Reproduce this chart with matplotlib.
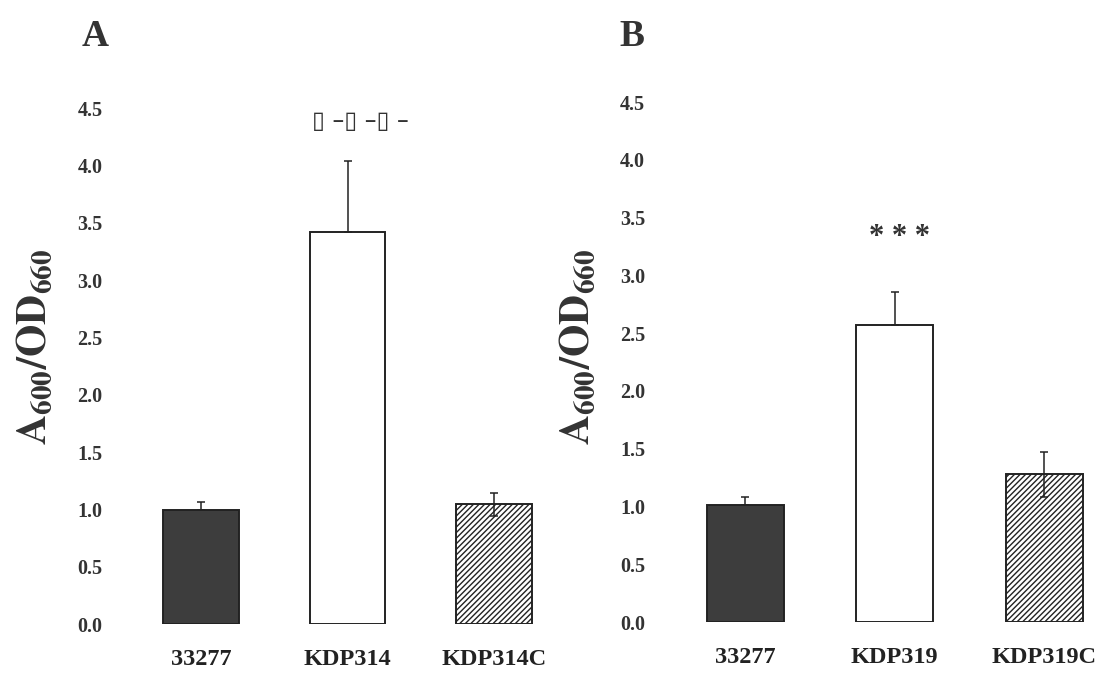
import matplotlib
matplotlib.use("Agg")
import matplotlib.pyplot as plt

plt.rcParams['font.family'] = ['Liberation Serif', 'DejaVu Sans']
plt.rcParams['mathtext.fontset'] = 'stix'
plt.rcParams['hatch.linewidth'] = 1.0

# panel A
strains_a = ["33277", "KDP314", "KDP314C"]
means_a = [0.99, 3.42, 1.05]
err_up_a = [0.07, 0.62, 0.09]
err_lo_a = [0.0, 0.0, 0.11]
sig_a = "\u25af \u2013\u25af \u2013\u25af \u2013"
sig_a_pos = (1.085, 4.39)

# panel B
strains_b = ["33277", "KDP319", "KDP319C"]
means_b = [1.01, 2.57, 1.28]
err_up_b = [0.07, 0.29, 0.19]
err_lo_b = [0.0, 0.0, 0.20]
sig_b = "* * *"
sig_b_pos = (1.03, 3.33)

yticks = [0.0, 0.5, 1.0, 1.5, 2.0, 2.5, 3.0, 3.5, 4.0, 4.5]

W, H = 1095, 678
fig = plt.figure(figsize=(W / 100, H / 100), dpi=100)

def px_axes(left, right, y0, y45):
    return fig.add_axes([left / W, (H - y0) / H, (right - left) / W, (y0 - y45) / H])

ax_a = px_axes(127.75, 538, 624, 108)
ax_b = px_axes(670.25, 1089, 622, 102)

panels = [
    (ax_a, strains_a, means_a, err_up_a, err_lo_a, sig_a, sig_a_pos, "A", 82, (-0.177, 0.537)),
    (ax_b, strains_b, means_b, err_up_b, err_lo_b, sig_b, sig_b_pos, "B", 619, (-0.173, 0.529)),
]

for ax, names, means, eu, el, sig, sig_pos, letter, lx, lab_xy in panels:
    x = list(range(len(names)))
    faces = ["#3d3d3d", "white", "white"]
    hatches = [None, None, "//////"]
    for xi, m, fc, h in zip(x, means, faces, hatches):
        ax.bar(xi, m, width=0.515, color=fc, edgecolor="#222222",
               linewidth=1.4, hatch=h, zorder=2)
    ax.errorbar(x, means, yerr=[el, eu], fmt="none", ecolor="#222222",
                elinewidth=1.1, capsize=3, capthick=1.1, zorder=3)
    if letter == "A":
        ax.text(*sig_pos, sig, ha="center", va="center", fontsize=17,
                color="#333333", family=['DejaVu Sans'])
    else:
        ax.text(*sig_pos, sig, ha="center", va="center", fontsize=22,
                fontweight="bold", color="#333333")
    ax.set_xlim(-0.5, 2.3)
    ax.set_ylim(0, 4.5)
    ax.set_yticks(yticks)
    ax.set_yticklabels([f"{t:.1f}" for t in yticks], fontsize=14.5, fontweight="bold",
                       color="#333333")
    ax.set_xticks(x)
    ax.set_xticklabels(names, fontsize=17.5, fontweight="bold", color="#222222")
    ax.tick_params(axis="y", length=0, pad=18)
    ax.tick_params(axis="x", length=0, pad=18)
    for s in ax.spines.values():
        s.set_visible(False)
    ax.set_ylabel(r"$\mathbf{A_{600}/OD_{660}}$", fontsize=30, color="#333333")
    ax.yaxis.set_label_coords(*lab_xy)
    fig.text(lx / W, (H - 46) / H, letter, fontsize=27, fontweight="bold",
             color="#333333", ha="left", va="baseline")

fig.savefig("out.png", dpi=100)
